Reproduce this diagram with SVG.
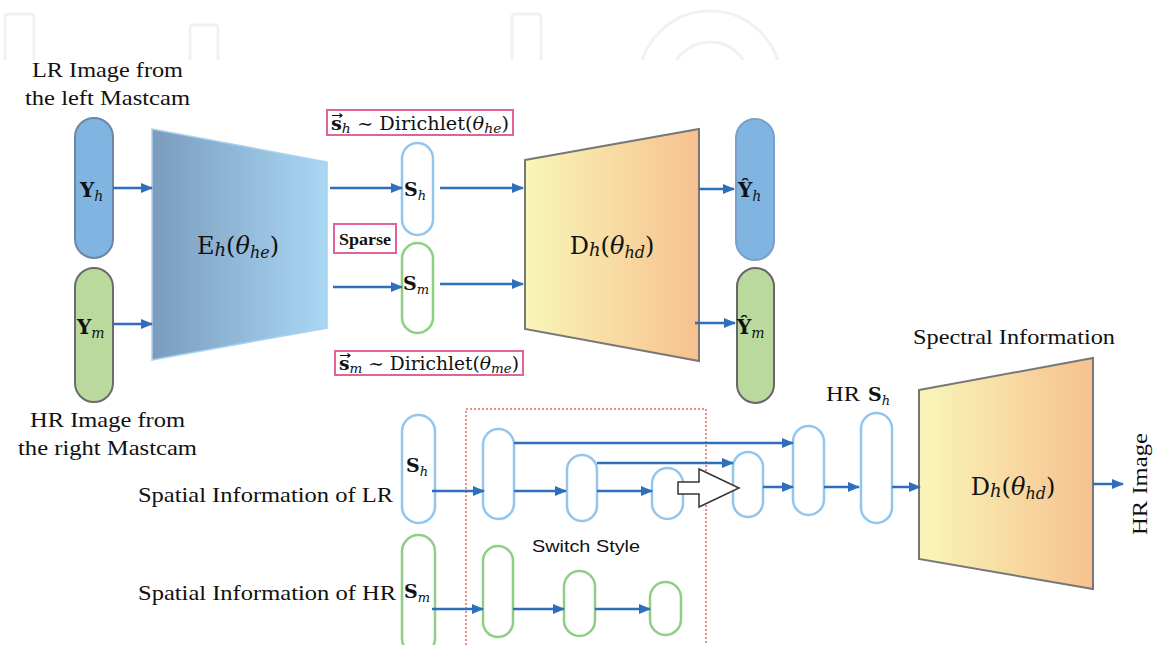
<svg xmlns="http://www.w3.org/2000/svg" width="1161" height="645" viewBox="0 0 1161 645">
<style>
.lbl{font-family:"Liberation Serif","Times New Roman",serif;fill:#111}
.math{font-family:"DejaVu Serif","Liberation Serif",serif;fill:#111}
.sans{font-family:"Liberation Sans",Arial,sans-serif;fill:#111}
.b{font-weight:bold}
.i{font-style:italic}
.wm{fill:none;stroke:#f1f1f1;stroke-width:3}
.conn{stroke:#2f6dbd;stroke-width:2.5;fill:none;marker-end:url(#ah)}
.bpill{fill:#fff;stroke:#93c6ee;stroke-width:2.5}
.gpill{fill:#fff;stroke:#8fce85;stroke-width:2.5}
.pink{fill:#fff;stroke:#e0649c;stroke-width:2}
.vec{stroke:#111;stroke-width:1.2;fill:none}
</style>
<defs>
<marker id="ah" markerUnits="userSpaceOnUse" markerWidth="12" markerHeight="10" refX="11" refY="5" orient="auto">
<path d="M0,0 L12,5 L0,10 z" fill="#2f6dbd"/>
</marker>
<linearGradient id="gEnc" x1="0" y1="0" x2="1" y2="0">
<stop offset="0" stop-color="#7b9cbc"/>
<stop offset="1" stop-color="#a9d7f4"/>
</linearGradient>
<linearGradient id="gDec" x1="0" y1="0" x2="1" y2="0">
<stop offset="0" stop-color="#f9f6b9"/>
<stop offset="1" stop-color="#f6c18e"/>
</linearGradient>
<clipPath id="wmclip"><rect x="0" y="0" width="1161" height="60"/></clipPath>
</defs>
<rect width="1161" height="645" fill="#fff"/>

<g id="watermark" clip-path="url(#wmclip)">
<rect class="wm" x="5" y="14" width="29" height="60" rx="3"/>
<rect class="wm" x="190" y="25" width="28" height="50" rx="3"/>
<rect class="wm" x="512" y="14" width="29" height="60" rx="3"/>
<circle class="wm" cx="710" cy="82" r="71"/>
<circle class="wm" cx="710" cy="82" r="40"/>
</g>

<g id="labels-left">
<text class="lbl" style="font-size:21px" x="32" y="77" textLength="151" lengthAdjust="spacingAndGlyphs">LR Image from</text>
<text class="lbl" style="font-size:21px" x="25" y="105" textLength="165" lengthAdjust="spacingAndGlyphs">the left Mastcam</text>
<text class="lbl" style="font-size:21px" x="30" y="427" textLength="155" lengthAdjust="spacingAndGlyphs">HR Image from</text>
<text class="lbl" style="font-size:21px" x="18" y="455" textLength="179" lengthAdjust="spacingAndGlyphs">the right Mastcam</text>
<text class="lbl" style="font-size:21px" x="138" y="502" textLength="255" lengthAdjust="spacingAndGlyphs">Spatial Information of LR</text>
<text class="lbl" style="font-size:21px" x="138" y="600" textLength="258" lengthAdjust="spacingAndGlyphs">Spatial Information of HR</text>
</g>

<g id="node-Yh">
<rect x="75" y="118" width="38" height="140" rx="19" fill="#80b5e2" stroke="#6c86a3" stroke-width="2"/>
<text class="math" style="font-size:20px" x="80" y="197"><tspan class="b">Y</tspan><tspan class="i" style="font-size:14px" dy="4">h</tspan></text>
</g>
<g id="node-Ym">
<rect x="75" y="268" width="38" height="134" rx="19" fill="#b9d99d" stroke="#6b6b6b" stroke-width="2"/>
<text class="math" style="font-size:20px" x="77" y="334"><tspan class="b">Y</tspan><tspan class="i" style="font-size:14px" dy="4">m</tspan></text>
</g>

<g id="node-encoder">
<polygon points="152,129 327,162 327,328 152,360" fill="url(#gEnc)" stroke="#a8d2ee" stroke-width="1.5"/>
<text class="math" style="font-size:24px" x="238" y="254" text-anchor="middle">E<tspan class="i" style="font-size:18px" dy="2">h</tspan><tspan dy="-2">(</tspan><tspan class="i">θ</tspan><tspan class="i" style="font-size:16px" dy="4">he</tspan><tspan dy="-4">)</tspan></text>
</g>

<g id="node-dir-h">
<rect class="pink" x="327" y="110" width="186" height="25"/>
<text class="math" style="font-size:18px" x="331" y="130" textLength="178" lengthAdjust="spacingAndGlyphs"><tspan class="b">s</tspan><tspan class="i" style="font-size:13px" dy="3">h</tspan><tspan dy="-3"> ∼ Dirichlet(</tspan><tspan class="i">θ</tspan><tspan class="i" style="font-size:13px" dy="3">he</tspan><tspan dy="-3">)</tspan></text>
<path class="vec" d="M332,115.5 L342,115.5 M339.5,113.5 L342,115.5 L339.5,117.5"/>
</g>
<g id="node-sparse">
<rect class="pink" x="334" y="224" width="62" height="29" stroke-width="1.5"/>
<text class="lbl b" style="font-size:17px" x="339" y="245" textLength="52" lengthAdjust="spacingAndGlyphs">Sparse</text>
</g>
<g id="node-dir-m">
<rect class="pink" x="335" y="351" width="188" height="24"/>
<text class="math" style="font-size:18px" x="339" y="370" textLength="180" lengthAdjust="spacingAndGlyphs"><tspan class="b">s</tspan><tspan class="i" style="font-size:13px" dy="3">m</tspan><tspan dy="-3"> ∼ Dirichlet(</tspan><tspan class="i">θ</tspan><tspan class="i" style="font-size:13px" dy="3">me</tspan><tspan dy="-3">)</tspan></text>
<path class="vec" d="M340,355.5 L350,355.5 M347.5,353.5 L350,355.5 L347.5,357.5"/>
</g>

<g id="node-Sh-top">
<rect class="bpill" x="402" y="143" width="31" height="92" rx="15.5"/>
<text class="math" style="font-size:19px" x="404" y="196"><tspan class="b">S</tspan><tspan class="i" style="font-size:13px" dy="4">h</tspan></text>
</g>
<g id="node-Sm-top">
<rect class="gpill" x="402" y="243" width="31" height="90" rx="15.5"/>
<text class="math" style="font-size:19px" x="403" y="290"><tspan class="b">S</tspan><tspan class="i" style="font-size:13px" dy="4">m</tspan></text>
</g>

<g id="node-decoder">
<polygon points="525,160 699,129 699,361 525,329" fill="url(#gDec)" stroke="#777" stroke-width="2"/>
<text class="math" style="font-size:24px" x="612" y="254" text-anchor="middle">D<tspan class="i" style="font-size:18px" dy="2">h</tspan><tspan dy="-2">(</tspan><tspan class="i">θ</tspan><tspan class="i" style="font-size:16px" dy="4">hd</tspan><tspan dy="-4">)</tspan></text>
</g>

<g id="node-Yh-hat">
<rect x="736" y="119" width="38" height="141" rx="19" fill="#80b5e2" stroke="#7aa0c8" stroke-width="2"/>
<text class="math" style="font-size:20px" x="738" y="197"><tspan class="b">Ŷ</tspan><tspan class="i" style="font-size:14px" dy="4">h</tspan></text>
</g>
<g id="node-Ym-hat">
<rect x="737" y="268" width="37" height="135" rx="18.5" fill="#b9d99d" stroke="#666" stroke-width="2"/>
<text class="math" style="font-size:20px" x="737" y="334"><tspan class="b">Ŷ</tspan><tspan class="i" style="font-size:14px" dy="4">m</tspan></text>
</g>

<g id="node-switch-box">
<rect x="466" y="409" width="240" height="250" fill="none" stroke="#f08a84" stroke-width="2" stroke-dasharray="2,2"/>
<text class="sans" style="font-size:17px" x="532" y="552" textLength="108" lengthAdjust="spacingAndGlyphs">Switch Style</text>
</g>

<g id="node-Sh-bot">
<rect class="bpill" x="402" y="415" width="33" height="108" rx="16.5"/>
<text class="math" style="font-size:19px" x="406" y="472"><tspan class="b">S</tspan><tspan class="i" style="font-size:13px" dy="4">h</tspan></text>
</g>
<g id="node-Sm-bot">
<rect class="gpill" x="402" y="535" width="33" height="120" rx="16.5"/>
<text class="math" style="font-size:19px" x="404" y="598"><tspan class="b">S</tspan><tspan class="i" style="font-size:13px" dy="4">m</tspan></text>
</g>

<g id="node-b1"><rect class="bpill" x="483" y="429" width="31" height="90" rx="15.5"/></g>
<g id="node-b2"><rect class="bpill" x="567" y="455" width="30" height="66" rx="15"/></g>
<g id="node-b3"><rect class="bpill" x="652" y="468" width="31" height="51" rx="15.5"/></g>
<g id="node-b4"><rect class="bpill" x="733" y="452" width="30" height="65" rx="15"/></g>
<g id="node-b5"><rect class="bpill" x="793" y="426" width="31" height="89" rx="15.5"/></g>
<g id="node-b6">
<rect class="bpill" x="861" y="413" width="31" height="110" rx="15.5"/>
<text class="lbl" style="font-size:21px" x="826" y="401" textLength="34" lengthAdjust="spacingAndGlyphs">HR</text>
<text class="math" style="font-size:19px" x="868" y="401"><tspan class="b">S</tspan><tspan class="i" style="font-size:13px" dy="4">h</tspan></text>
</g>
<g id="node-g1"><rect class="gpill" x="483" y="546" width="30" height="91" rx="15"/></g>
<g id="node-g2"><rect class="gpill" x="564" y="571" width="31" height="65" rx="15.5"/></g>
<g id="node-g3"><rect class="gpill" x="650" y="582" width="31" height="53" rx="15.5"/></g>

<g id="node-switch-arrow">
<polygon points="678,482 699,482 699,469 739,488 699,507 699,494 678,494" fill="#fff" stroke="#333" stroke-width="1.5"/>
</g>

<g id="node-decoder2">
<text class="lbl" style="font-size:21px" x="913" y="344" textLength="202" lengthAdjust="spacingAndGlyphs">Spectral Information</text>
<polygon points="919,390 1093,358 1093,589 919,559" fill="url(#gDec)" stroke="#777" stroke-width="2"/>
<text class="math" style="font-size:24px" x="1013" y="495" text-anchor="middle">D<tspan class="i" style="font-size:18px" dy="2">h</tspan><tspan dy="-2">(</tspan><tspan class="i">θ</tspan><tspan class="i" style="font-size:16px" dy="4">hd</tspan><tspan dy="-4">)</tspan></text>
</g>
<g id="node-hr-image">
<text class="lbl" style="font-size:21px" transform="translate(1147,484) rotate(-90)" x="0" y="0" text-anchor="middle" textLength="102" lengthAdjust="spacingAndGlyphs">HR Image</text>
</g>

<g id="connectors">
<line class="conn" x1="113" y1="188" x2="152" y2="188"/>
<line class="conn" x1="113" y1="324" x2="152" y2="324"/>
<line class="conn" x1="330" y1="188" x2="402" y2="188"/>
<line class="conn" x1="333" y1="287" x2="402" y2="287"/>
<line class="conn" x1="440" y1="188" x2="523" y2="188"/>
<line class="conn" x1="440" y1="284" x2="523" y2="284"/>
<line class="conn" x1="699" y1="189" x2="734" y2="189"/>
<line class="conn" x1="695" y1="323" x2="735" y2="323"/>
<line class="conn" x1="432" y1="491" x2="484" y2="491"/>
<line class="conn" x1="514" y1="491" x2="566" y2="491"/>
<line class="conn" x1="597" y1="491" x2="652" y2="491"/>
<line class="conn" x1="514" y1="443" x2="793" y2="443"/>
<line class="conn" x1="597" y1="463" x2="733" y2="463"/>
<line class="conn" x1="763" y1="487" x2="793" y2="487"/>
<line class="conn" x1="824" y1="487" x2="859" y2="487"/>
<line class="conn" x1="892" y1="487" x2="920" y2="487"/>
<line class="conn" x1="1093" y1="484" x2="1123" y2="484"/>
<line class="conn" x1="432" y1="609" x2="483" y2="609"/>
<line class="conn" x1="513" y1="609" x2="564" y2="609"/>
<line class="conn" x1="595" y1="609" x2="650" y2="609"/>
</g>
</svg>
